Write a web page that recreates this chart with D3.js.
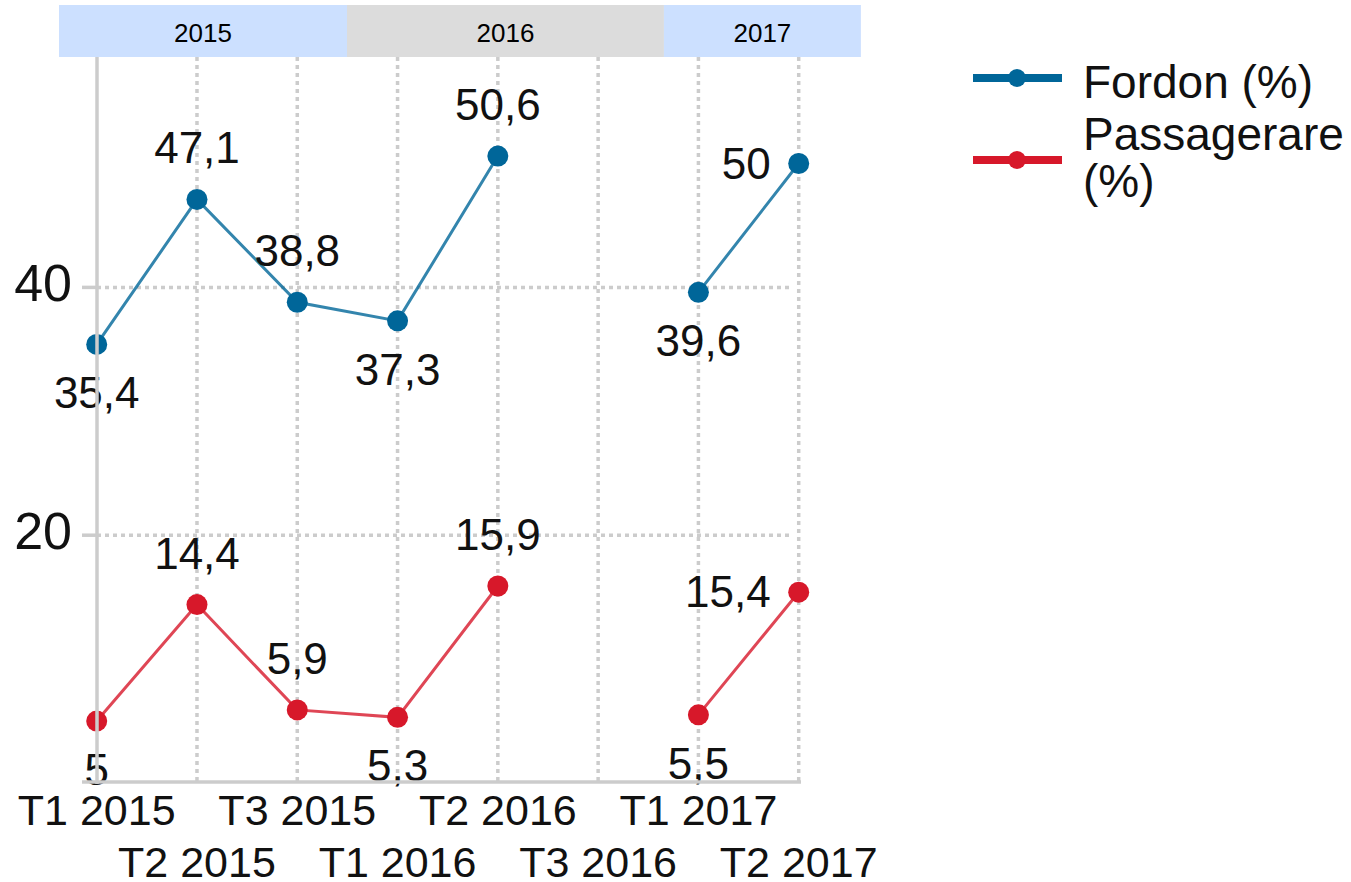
<!DOCTYPE html>
<html><head><meta charset="utf-8">
<script src="https://cdn.jsdelivr.net/npm/d3@7"></script>
<style>body{margin:0;background:#fff}svg{display:block}text{font-family:"Liberation Sans",Arial,sans-serif;fill:#111}</style>
</head><body><svg id="c" width="1351" height="882"></svg>
<script>
const categories = ["T1 2015","T2 2015","T3 2015","T1 2016","T2 2016","T3 2016","T1 2017","T2 2017"];
const fordon = [35.4, 47.1, 38.8, 37.3, 50.6, null, 39.6, 50];
const passagerare = [5, 14.4, 5.9, 5.3, 15.9, null, 5.5, 15.4];
const seriesNames = ["Fordon (%)", "Passagerare (%)"];
const yTicks = [20, 40];
const years = ["2015", "2016", "2017"];
const yearBounds = [-0.376, 2.496, 5.656, 7.62]; // in category-index units
const labelSide = ["below","above","above","below","above",null,"below","left"];

const colors = ["#006699", "#d7182a"];
const yearFill = ["#cce0ff", "#dcdcdc", "#cce0ff"];

const svg = d3.select("#c");
const x = d3.scalePoint().domain(categories).range([96.7, 798.7]);
const xi = d3.scaleLinear().domain([0, categories.length - 1]).range([96.7, 798.7]);
const y = d3.scaleLinear().domain([0, 60]).range([783, 39.6]);
const plotTop = 57, plotBottom = 782;

// horizontal gridlines
svg.append("g").selectAll("line").data(yTicks).join("line")
  .attr("x1", 97).attr("x2", 793).attr("y1", d => y(d)).attr("y2", d => y(d))
  .attr("stroke", "#cccccc").attr("stroke-width", 3.5).attr("stroke-dasharray", "4,4");
// y tick stubs
svg.append("g").selectAll("line").data(yTicks).join("line")
  .attr("x1", 82).attr("x2", 97).attr("y1", d => y(d)).attr("y2", d => y(d))
  .attr("stroke", "#cccccc").attr("stroke-width", 3.5);
// vertical gridlines
svg.append("g").selectAll("line").data(categories.slice(1)).join("line")
  .attr("x1", d => x(d)).attr("x2", d => x(d)).attr("y1", plotTop).attr("y2", plotBottom)
  .attr("stroke", "#cccccc").attr("stroke-width", 3.5).attr("stroke-dasharray", "4,4");

// y tick labels
svg.append("g").selectAll("text").data(yTicks).join("text")
  .attr("x", 72).attr("y", d => y(d) + 14).attr("text-anchor", "end")
  .attr("font-size", 52).text(d => d);

// x labels (staggered)
svg.append("g").selectAll("text").data(categories).join("text")
  .attr("x", d => x(d)).attr("y", (d, i) => i % 2 === 0 ? 825 : 877)
  .attr("text-anchor", "middle").attr("font-size", 43).text(d => d);

// year band
const yb = svg.append("g");
years.forEach((yr, i) => {
  const x0 = xi(yearBounds[i]), x1 = xi(yearBounds[i + 1]);
  yb.append("rect").attr("x", x0).attr("y", 5).attr("width", x1 - x0).attr("height", 52).attr("fill", yearFill[i]);
  yb.append("text").attr("x", (x0 + x1) / 2).attr("y", 42).attr("text-anchor", "middle")
    .attr("font-size", 26).style("fill", "#000").text(yr);
});

// series
const series = [fordon, passagerare];
const fmt = v => String(v).replace(".", ",");
series.forEach((vals, si) => {
  const pts = vals.map((v, i) => ({c: categories[i], v, i}));
  const line = d3.line().defined(d => d.v !== null).x(d => x(d.c)).y(d => y(d.v));
  svg.append("path").datum(pts).attr("d", line).attr("fill", "none")
    .attr("stroke", colors[si]).attr("stroke-width", 3).attr("stroke-opacity", 0.8);
  const valid = pts.filter(d => d.v !== null);
  svg.append("g").selectAll("circle").data(valid).join("circle")
    .attr("cx", d => x(d.c)).attr("cy", d => y(d.v)).attr("r", 10.5).attr("fill", colors[si]);
  svg.append("g").selectAll("text").data(valid).join("text")
    .attr("font-size", 44)
    .attr("text-anchor", d => labelSide[d.i] === "left" ? "end" : "middle")
    .attr("x", d => labelSide[d.i] === "left" ? x(d.c) - 28 : x(d.c))
    .attr("y", d => labelSide[d.i] === "above" ? y(d.v) - 36 : labelSide[d.i] === "below" ? y(d.v) + 64 : y(d.v) + 15)
    .text(d => fmt(d.v));
});

// axes lines (drawn over labels, as in the reference)
svg.append("line").attr("x1", 97).attr("x2", 97).attr("y1", plotTop).attr("y2", plotBottom + 2)
  .attr("stroke", "#cccccc").attr("stroke-width", 3.5);
svg.append("line").attr("x1", 82).attr("x2", 801).attr("y1", plotBottom).attr("y2", plotBottom)
  .attr("stroke", "#cccccc").attr("stroke-width", 3.5);

// legend
const lg = svg.append("g");
const legRows = [{y: 78, lines: ["Fordon (%)"], base: 98}, {y: 160, lines: ["Passagerare", "(%)"], base: 150}];
legRows.forEach((r, i) => {
  lg.append("line").attr("x1", 973).attr("x2", 1062).attr("y1", r.y).attr("y2", r.y)
    .attr("stroke", colors[i]).attr("stroke-width", 8);
  lg.append("circle").attr("cx", 1017).attr("cy", r.y).attr("r", 9).attr("fill", colors[i]);
  const t = lg.append("text").attr("x", 1083).attr("y", r.base).attr("font-size", 46);
  r.lines.forEach((s, k) => t.append("tspan").attr("x", 1083).attr("dy", k === 0 ? 0 : 47).text(s));
});
</script></body></html>
